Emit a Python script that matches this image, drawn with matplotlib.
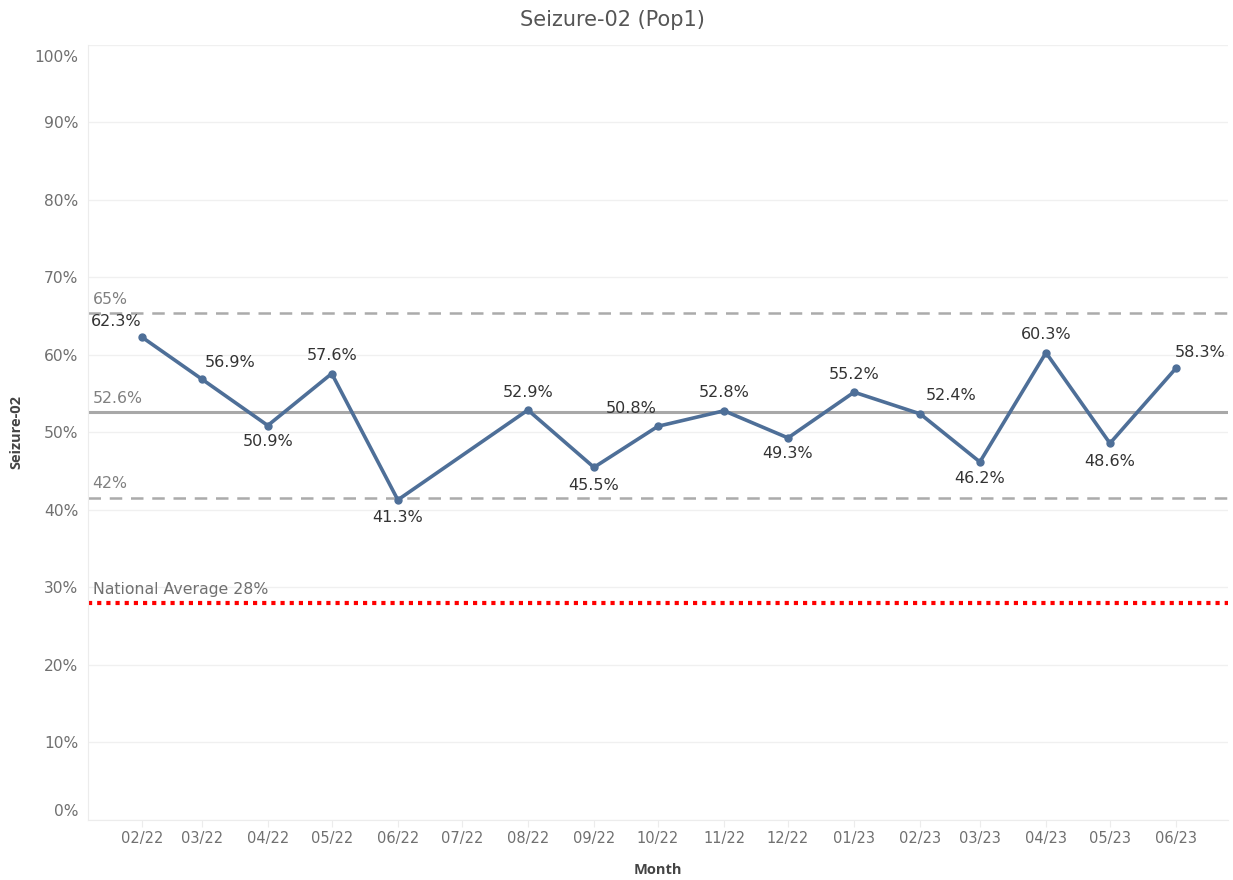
import datetime as dt
import matplotlib
matplotlib.use('Agg')
import matplotlib.pyplot as plt
import matplotlib.transforms as mtransforms
from matplotlib.ticker import FuncFormatter

plt.rcParams['font.family'] = ['DejaVu Sans']

# data
months = ['02/22', '03/22', '04/22', '05/22', '06/22', '08/22', '09/22', '10/22',
          '11/22', '12/22', '01/23', '02/23', '03/23', '04/23', '05/23', '06/23']
values = [62.3, 56.9, 50.9, 57.6, 41.3, 52.9, 45.5, 50.8,
          52.8, 49.3, 55.2, 52.4, 46.2, 60.3, 48.6, 58.3]
tick_months = ['02/22', '03/22', '04/22', '05/22', '06/22', '07/22', '08/22', '09/22',
               '10/22', '11/22', '12/22', '01/23', '02/23', '03/23', '04/23', '05/23', '06/23']
center_val = 52.6
upper_val = 65.4
lower_val = 41.6
ref_labels = ['65%', '52.6%', '42%']
national_avg = 28.0

# label placement (pixel offsets from the point)
label_off = [(-26, 16), (28, 16), (0, -16), (0, 18), (0, -18), (0, 18), (0, -18), (-27, 18),
             (0, 18), (0, -16), (0, 18), (31, 18), (0, -17), (0, 18), (0, -18), (24, 16)]


def to_date(m):
    mm, yy = m.split('/')
    return dt.datetime(2000 + int(yy), int(mm), 1)


x = [to_date(m) for m in months]
xt = [to_date(m) for m in tick_months]

fig = plt.figure(figsize=(12.33, 8.8), dpi=100)
ax = fig.add_axes([0.0714, 0.0682, 0.9246, 0.8807])

ax.set_ylim(0, 100)
ax.set_xlim(to_date('02/22') - dt.timedelta(days=25.3), to_date('06/23') + dt.timedelta(days=24.4))

ax.set_yticks(range(0, 101, 10))
ax.yaxis.set_major_formatter(FuncFormatter(lambda v, p: '%d%%' % v))
ax.grid(axis='y', color='#f0f0f0', linewidth=1)
ax.set_axisbelow(True)
ax.set_xticks(xt)
ax.set_xticklabels(tick_months)

for s in ['top', 'right']:
    ax.spines[s].set_visible(False)
ax.spines['left'].set_color('#ececec')
ax.spines['bottom'].set_color('#ececec')
ax.tick_params(axis='y', length=0, labelsize=11.2, labelcolor='#707070', pad=7)
ax.tick_params(axis='x', length=5, color='#ececec', labelsize=10.5, labelcolor='#707070', pad=3)

# nudge the end labels inside like the original
ylabs = ax.get_yticklabels()
ylabs[0].set_transform(ylabs[0].get_transform() + mtransforms.ScaledTranslation(0, 10 / 100, fig.dpi_scale_trans))
ylabs[-1].set_transform(ylabs[-1].get_transform() + mtransforms.ScaledTranslation(0, -11 / 100, fig.dpi_scale_trans))

# reference lines
tr = mtransforms.blended_transform_factory(ax.transAxes, ax.transData)
ax.axhline(upper_val, color='#ababab', linewidth=1.8, dashes=(5, 3.5))
ax.axhline(center_val, color='#a8a8a8', linewidth=2.2)
ax.axhline(lower_val, color='#ababab', linewidth=1.8, dashes=(5, 3.5))
ax.axhline(national_avg, color='#ff0000', linewidth=3, dashes=(1, 1.2))
for v, t in zip([upper_val, center_val, lower_val], ref_labels):
    ax.text(0.004, v + 0.8, t, transform=tr, fontsize=11.3, color='#808080', va='bottom', ha='left')
ax.text(0.004, national_avg + 0.8, 'National Average 28%', transform=tr, fontsize=11.3,
        color='#707070', va='bottom', ha='left')

# main line
ax.plot(x, values, color='#4e6f98', linewidth=2.6, marker='o', markersize=5, zorder=5)
for xi, v, (dx, dy) in zip(x, values, label_off):
    ax.annotate('%.1f%%' % v, (xi, v), xytext=(dx, dy), textcoords='offset pixels',
                ha='center', va='center', fontsize=11.5, color='#333333', zorder=6)

ax.set_xlabel('Month', fontsize=10.5, fontweight='bold', family='Open Sans',
              color='#444444', labelpad=12)
ax.set_ylabel('Seizure-02', fontsize=10.5, fontweight='bold', family='Open Sans',
              color='#444444', labelpad=8)
fig.text(0.497, 0.977, 'Seizure-02 (Pop1)', ha='center', va='center', fontsize=15, color='#555555')

fig.savefig('out.png', dpi=100)
